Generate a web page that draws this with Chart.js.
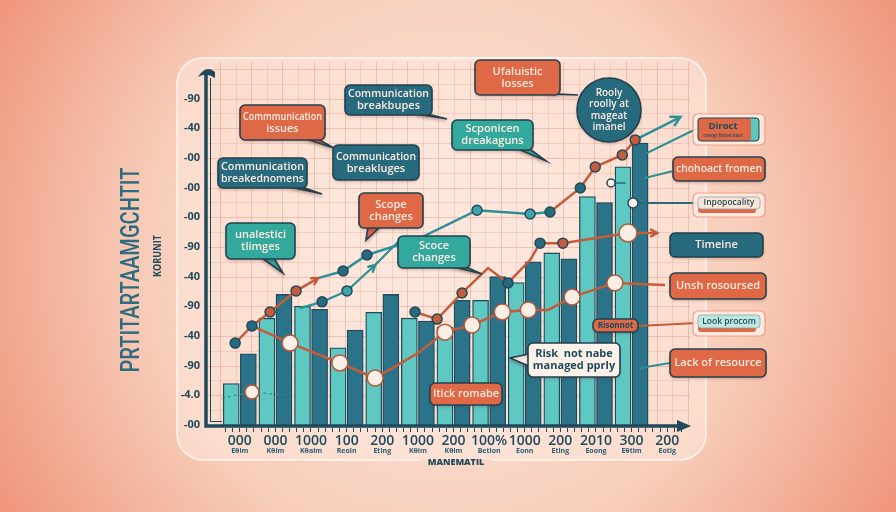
<!DOCTYPE html>
<html lang="en">
<head>
<meta charset="UTF-8">
<title>Project risk chart</title>
<script src="https://cdn.jsdelivr.net/npm/chart.js"></script>
<style>
  html, body { margin: 0; padding: 0; background: #f6c9b6; overflow: hidden; }
  canvas { display: block; }
</style>
</head>
<body>
<canvas id="chart" width="896" height="512"></canvas>
<script>
// ---- data ----
const xLabels = ['000', '000', '1000', '100', '200', '1000', '200', '100%', '1000', '200', '2010', '300', '200'];
const xSubLabels = ['Eθim', 'Kθim', 'Kθaim', 'Reoin', 'Eting', 'Kθim', 'Kθim', 'Betion', 'Eonn', 'Eting', 'Eoong', 'Eθtim', 'Eotig'];
const yTickLabels = ['-00', '-4.0', '-90', '-40', '-90', '-40', '-90', '-00', '-00', '-00', '-40', '-90'];

const barsFront = [14, 36, 40, 26, 38, 36, 33, 42, 48, 58, 77, 87, null];
const barsBack = [24, 44, 39, 32, 44, 35, 42, 50, 55, 56, 75, 95, null];

// lines use a hidden linear x axis in category-index units
const upperLine = [
  {x: -0.13, y: 27.6}, {x: 0.34, y: 33.4}, {x: 0.85, y: 38.1}, {x: 1.58, y: 45.2},
  {x: 2.20, y: 49.5}, {x: 2.90, y: 51.9}, {x: 3.57, y: 57.3}, {x: 5.06, y: 63.0},
  {x: 6.66, y: 72.4}, {x: 8.15, y: 71.1}, {x: 8.71, y: 71.8}, {x: 9.56, y: 79.9},
  {x: 9.98, y: 87.0}, {x: 10.74, y: 91.0}, {x: 11.10, y: 96.1}, {x: 12.37, y: 103.8}
];
const tealLine = [
  {x: 1.69, y: 39.4}, {x: 2.31, y: 41.5}, {x: 3.01, y: 45.2}, {x: 3.80, y: 53.9}, {x: 4.44, y: 61.7}
];
const middleLine = [
  {x: 4.92, y: 38.1}, {x: 5.54, y: 35.7}, {x: 6.24, y: 44.5}, {x: 6.97, y: 52.9}, {x: 7.53, y: 47.9},
  {x: 8.15, y: 55.6}, {x: 8.43, y: 61.3}, {x: 9.07, y: 61.3}, {x: 10.90, y: 64.7}, {x: 11.72, y: 64.7}
];
const nodeLine = [
  {x: 0.34, y: 33.4}, {x: 1.41, y: 27.6}, {x: 2.81, y: 20.9}, {x: 3.80, y: 15.8}, {x: 5.01, y: 24.3},
  {x: 5.76, y: 31.3}, {x: 6.52, y: 33.7}, {x: 7.37, y: 38.1}, {x: 8.10, y: 38.8}, {x: 8.66, y: 38.8},
  {x: 9.33, y: 43.1}, {x: 10.53, y: 47.9}, {x: 11.94, y: 47.2}
];
const dashedLine = [{x: -0.50, y: 9.1}, {x: 0.34, y: 11.1}, {x: 1.27, y: 10.1}];

// ---- colours ----
const NAVY = '#1f4a5b';
const ORANGE = '#df6846';
const RUST = '#c45c3c';
const DARKTEAL = '#27697d';
const GREEN = '#33a89d';
const LIGHTBAR = '#5ec8c2';
const DARKBAR = '#2b7388';
const CREAM = '#fdebe0';
const TEALLINE = '#2d9097';
const NODE = '#fbeee5';

const D = 'd', O = 'o', T = 't', W = 'w', N = 'n';
const fillOf = {d: DARKTEAL, o: RUST, t: '#3aa6a6', w: NODE, n: 'rgba(0,0,0,0)'};
const radOf = {d: 5, o: 5, t: 5, w: 8, n: 0};
const upperPts = [D, D, O, O, N, D, D, N, T, T, D, D, O, O, O, N];
const upperSeg = [RUST, RUST, RUST, RUST, TEALLINE, TEALLINE, TEALLINE, TEALLINE, TEALLINE, TEALLINE, RUST, RUST, RUST, RUST, TEALLINE];
const tealPts = [N, D, T, N, N];
const middlePts = [D, O, O, N, D, N, D, O, W, N];
const nodePts = [N, W, W, W, N, W, W, W, W, N, W, W, N];
const dashedPts = [N, W, N];

function pointStyle(pts, big) {
  return {
    pointRadius: pts.map(p => p === W ? (big || 8) : radOf[p]),
    pointBackgroundColor: pts.map(p => fillOf[p]),
    pointBorderColor: pts.map(p => p === N ? 'rgba(0,0,0,0)' : (p === W ? '#b4573b' : NAVY)),
    pointBorderWidth: 1.5
  };
}

// each category holds a pair of bars, placed either side of its centre
const PAIR = 0.24;
const frontPoints = barsFront.map((v, i) => ({x: i - PAIR, y: v}));
const backPoints = barsBack.map((v, i) => ({x: i + PAIR, y: v}));

// ---- drawing helpers ----
function roundRect(ctx, x, y, w, h, r) {
  ctx.beginPath();
  ctx.moveTo(x + r, y);
  ctx.arcTo(x + w, y, x + w, y + h, r);
  ctx.arcTo(x + w, y + h, x, y + h, r);
  ctx.arcTo(x, y + h, x, y, r);
  ctx.arcTo(x, y, x + w, y, r);
  ctx.closePath();
}

function arrowHead(ctx, from, to, color, size) {
  const a = Math.atan2(to.y - from.y, to.x - from.x);
  ctx.save();
  ctx.strokeStyle = color;
  ctx.lineWidth = 2.5;
  ctx.lineCap = 'round';
  ctx.beginPath();
  ctx.moveTo(to.x - size * Math.cos(a - 0.5), to.y - size * Math.sin(a - 0.5));
  ctx.lineTo(to.x, to.y);
  ctx.lineTo(to.x - size * Math.cos(a + 0.5), to.y - size * Math.sin(a + 0.5));
  ctx.stroke();
  ctx.restore();
}

function tailPath(ctx, b) {
  const [side, p, tx, ty] = b.tail;
  ctx.beginPath();
  if (side === 'bottom') {
    ctx.moveTo(p - 6, b.y + b.h - 1);
    ctx.lineTo(tx, ty);
    ctx.lineTo(p + 6, b.y + b.h - 1);
  } else {
    ctx.moveTo(b.x + 1, p - 6);
    ctx.lineTo(tx, ty);
    ctx.lineTo(b.x + 1, p + 6);
  }
  ctx.closePath();
}

function bubble(ctx, b) {
  ctx.save();
  ctx.shadowColor = 'rgba(90,40,30,0.25)';
  ctx.shadowOffsetY = 2;
  ctx.shadowBlur = 3;
  ctx.lineWidth = 1.6;
  ctx.strokeStyle = '#23404d';
  ctx.fillStyle = b.fill;
  if (b.tail) { tailPath(ctx, b); ctx.fill(); ctx.stroke(); }
  roundRect(ctx, b.x, b.y, b.w, b.h, 5);
  ctx.fill();
  ctx.shadowColor = 'transparent';
  ctx.stroke();
  if (b.tail) {
    ctx.save();
    tailPath(ctx, b);
    ctx.clip();
    roundRect(ctx, b.x + 1.2, b.y + 1.2, b.w - 2.4, b.h - 2.4, 4);
    ctx.fill();
    ctx.restore();
  }
  ctx.fillStyle = b.color;
  ctx.font = (b.font || '600 11px "Open Sans"');
  ctx.textAlign = 'center';
  ctx.textBaseline = 'middle';
  const lh = b.lh || 12;
  const y0 = b.y + b.h / 2 - (b.lines.length - 1) * lh / 2;
  b.lines.forEach((t, i) => ctx.fillText(t, b.x + b.w / 2, y0 + i * lh, b.w - 6));
  ctx.restore();
}

function paleTag(ctx, x, y, w, h, inner, strip, text) {
  ctx.save();
  ctx.fillStyle = 'rgba(255,236,226,0.9)';
  ctx.strokeStyle = 'rgba(236,150,128,0.9)';
  ctx.lineWidth = 1.2;
  roundRect(ctx, x, y, w, h, 5);
  ctx.fill(); ctx.stroke();
  ctx.fillStyle = strip;
  roundRect(ctx, x + 5, y + 4, w - 14, h - 8, 3);
  ctx.fill();
  ctx.fillStyle = inner;
  roundRect(ctx, x + 5, y + 4, w - 10, h - 12, 3);
  ctx.fill();
  ctx.strokeStyle = '#8aa3a8';
  ctx.lineWidth = 0.8;
  ctx.stroke();
  ctx.fillStyle = NAVY;
  ctx.font = '600 8.5px "Open Sans"';
  ctx.textAlign = 'center';
  ctx.textBaseline = 'middle';
  ctx.fillText(text, x + w / 2, y + 4 + (h - 12) / 2, w - 14);
  ctx.restore();
}

function line(ctx, x1, y1, x2, y2, color, w) {
  ctx.save();
  ctx.strokeStyle = color;
  ctx.lineWidth = w || 2;
  ctx.lineCap = 'round';
  ctx.beginPath();
  ctx.moveTo(x1, y1);
  ctx.lineTo(x2, y2);
  ctx.stroke();
  ctx.restore();
}

const callouts = [
  {x: 240, y: 105, w: 85, h: 35, fill: ORANGE, color: CREAM, lines: ['Commmunication', 'issues'], tail: ['bottom', 312, 334, 148]},
  {x: 345, y: 85, w: 87, h: 30, fill: DARKTEAL, color: CREAM, lines: ['Communication', 'breakbupes'], tail: ['bottom', 422, 447, 119]},
  {x: 218, y: 158, w: 89, h: 30, fill: DARKTEAL, color: CREAM, lines: ['Communication', 'breakednomens'], tail: ['bottom', 296, 322, 194]},
  {x: 333, y: 145, w: 86, h: 35, fill: DARKTEAL, color: CREAM, lines: ['Communication', 'breakluges']},
  {x: 359, y: 193, w: 64, h: 35, fill: ORANGE, color: CREAM, lines: ['Scope', 'changes'], tail: ['bottom', 374, 366, 240]},
  {x: 226, y: 223, w: 69, h: 36, fill: GREEN, color: CREAM, lines: ['unalestici', 'tlimges'], tail: ['bottom', 268, 283, 273]},
  {x: 398, y: 236, w: 72, h: 32, fill: GREEN, color: CREAM, lines: ['Scoce', 'changes'], tail: ['bottom', 460, 482, 274]},
  {x: 452, y: 120, w: 81, h: 30, fill: GREEN, color: CREAM, lines: ['Scponicen', 'dreakaguns'], tail: ['bottom', 524, 546, 161]},
  {x: 475, y: 60, w: 85, h: 35, fill: ORANGE, color: CREAM, lines: ['Ufaluistic', 'losses'], tail: ['bottom', 552, 578, 95]},
  {x: 528, y: 343, w: 92, h: 34, fill: '#fdf2ea', color: NAVY, lines: ['Risk  not nabe', 'managed pprly'], tail: ['left', 360, 510, 358], font: '700 11px "Open Sans"'},
  {x: 430, y: 383, w: 72, h: 22, fill: ORANGE, color: CREAM, lines: ['Itick romabe']},
  {x: 593, y: 319, w: 45, h: 13, fill: ORANGE, color: NAVY, lines: ['Risonnot'], font: '700 8px "Open Sans"'},
  {x: 673, y: 157, w: 92, h: 24, fill: ORANGE, color: CREAM, lines: ['chohoact fromen']},
  {x: 670, y: 233, w: 93, h: 24, fill: DARKTEAL, color: CREAM, lines: ['Timeine']},
  {x: 670, y: 273, w: 96, h: 26, fill: ORANGE, color: CREAM, lines: ['Unsh rosoursed']},
  {x: 670, y: 349, w: 96, h: 28, fill: ORANGE, color: CREAM, lines: ['Lack of resource']}
];

// ---- plugin: background, panel, grid, axes, annotations ----
const decor = {
  id: 'decor',
  beforeDraw(chart) {
    const ctx = chart.ctx;
    const a = chart.chartArea;
    ctx.save();
    const g = ctx.createRadialGradient(448, 256, 90, 448, 256, 560);
    g.addColorStop(0, '#fbe2d5');
    g.addColorStop(0.45, '#f7cdb9');
    g.addColorStop(1, '#ee8a6f');
    ctx.fillStyle = g;
    ctx.fillRect(0, 0, chart.width, chart.height);

    // pale panel
    const L = 177, Tp = 58, R = 706, B = 460, r = 26;
    ctx.fillStyle = 'rgba(255,238,229,0.45)';
    roundRect(ctx, L, Tp, R - L, B - Tp, r);
    ctx.fill();
    ctx.strokeStyle = 'rgba(255,255,255,0.75)';
    ctx.lineWidth = 1.5;
    ctx.beginPath();
    ctx.moveTo(420, B);
    ctx.lineTo(L + r, B);
    ctx.arcTo(L, B, L, Tp, r);
    ctx.arcTo(L, Tp, R, Tp, r);
    ctx.arcTo(R, Tp, R, B, r);
    ctx.arcTo(R, B, L, B, r);
    ctx.lineTo(492, B);
    ctx.stroke();

    // fine grid
    const gl = a.left - 15, gr = 690, gt = a.top - 4, gb = a.bottom;
    ctx.lineWidth = 1;
    const ys = chart.scales.y;
    const unit = ys.getPixelForValue(0) - ys.getPixelForValue(5);
    for (let k = 0, y = gb; y >= gt; k++, y -= unit) {
      ctx.strokeStyle = k % 2 === 0 ? 'rgba(226,140,124,0.42)' : 'rgba(230,156,140,0.3)';
      ctx.beginPath(); ctx.moveTo(gl, Math.round(y) + 0.5); ctx.lineTo(gr, Math.round(y) + 0.5); ctx.stroke();
    }
    for (let k = 0, x = gl + 13; x <= gr; k++, x += 15.6) {
      ctx.strokeStyle = k % 2 === 0 ? 'rgba(226,140,124,0.42)' : 'rgba(230,156,140,0.3)';
      ctx.beginPath(); ctx.moveTo(Math.round(x) + 0.5, gt); ctx.lineTo(Math.round(x) + 0.5, gb); ctx.stroke();
    }

    // axis titles
    ctx.fillStyle = '#2d6c80';
    ctx.textAlign = 'center';
    ctx.textBaseline = 'middle';
    ctx.save();
    ctx.translate(132, 270);
    ctx.rotate(-Math.PI / 2);
    ctx.font = '500 26px Roboto';
    ctx.fillText('PRTITARTAAMGCHTIT', 0, 0, 205);
    ctx.restore();
    ctx.save();
    ctx.translate(158, 256);
    ctx.rotate(-Math.PI / 2);
    ctx.fillStyle = NAVY;
    ctx.font = '700 10px "Open Sans"';
    ctx.fillText('KORUNIT', 0, 0, 42);
    ctx.restore();
    ctx.fillStyle = NAVY;
    ctx.font = '800 9px "Open Sans"';
    ctx.fillText('MANEMATIL', 456, 462);
    ctx.restore();
  },
  afterDatasetsDraw(chart) {
    const ctx = chart.ctx;
    const a = chart.chartArea;
    const ax = a.left - 16, ay = a.bottom + 1;
    ctx.save();
    // minor ruler ticks under x axis
    ctx.strokeStyle = NAVY;
    ctx.lineWidth = 1;
    const xs = chart.scales.x;
    const step = (xs.getPixelForValue(1) - xs.getPixelForValue(0)) / 5;
    for (let x = a.left + 3; x < a.right; x += step) {
      ctx.beginPath(); ctx.moveTo(Math.round(x) + 0.5, ay + 2); ctx.lineTo(Math.round(x) + 0.5, ay + 6); ctx.stroke();
    }
    // axis lines
    ctx.strokeStyle = NAVY;
    ctx.lineWidth = 3.5;
    ctx.beginPath();
    ctx.moveTo(ax, a.top + 8);
    ctx.lineTo(ax, ay);
    ctx.lineTo(a.right - 2, ay);
    ctx.stroke();
    ctx.lineWidth = 1;
    ctx.beginPath();
    ctx.moveTo(ax + 4.5, a.top + 12);
    ctx.lineTo(ax + 4.5, ay - 4.5);
    ctx.lineTo(a.left, ay - 4.5);
    ctx.stroke();
    ctx.fillStyle = NAVY;
    ctx.beginPath();
    ctx.moveTo(ax - 8, a.top + 11);
    ctx.quadraticCurveTo(ax, a.top - 2, ax + 9, a.top + 6);
    ctx.lineTo(ax + 9, a.top + 12);
    ctx.quadraticCurveTo(ax, a.top + 6, ax - 8, a.top + 11);
    ctx.fill();
    ctx.beginPath();
    ctx.moveTo(a.right - 8, ay - 6);
    ctx.lineTo(a.right + 6, ay);
    ctx.lineTo(a.right - 8, ay + 6);
    ctx.closePath();
    ctx.fill();
    ctx.restore();

    // arrow ends of the trend lines
    const up = chart.getDatasetMeta(2).data;
    arrowHead(ctx, up[up.length - 2], up[up.length - 1], TEALLINE, 10);
    arrowHead(ctx, up[3], up[4], RUST, 7);
    const mid = chart.getDatasetMeta(4).data;
    arrowHead(ctx, mid[mid.length - 2], mid[mid.length - 1], RUST, 7);
    const tl = chart.getDatasetMeta(3).data;
    arrowHead(ctx, tl[2], tl[3], TEALLINE, 7);

    // x sub labels
    ctx.save();
    ctx.fillStyle = '#2b5f73';
    ctx.font = '700 7px "Open Sans"';
    ctx.textAlign = 'center';
    ctx.textBaseline = 'middle';
    xSubLabels.forEach((t, i) => ctx.fillText(t, xs.getPixelForValue(i), 451));
    ctx.restore();
  },
  afterDraw(chart) {
    const ctx = chart.ctx;
    // connectors to the right-hand tags
    line(ctx, 647, 153, 696, 129, TEALLINE, 2);
    line(ctx, 645, 178, 673, 171, TEALLINE, 2);
    line(ctx, 633, 203, 697, 203, DARKTEAL, 2);
    line(ctx, 612, 183, 625, 183, DARKTEAL, 1.5);
    line(ctx, 638, 326, 697, 323, RUST, 2);
    line(ctx, 640, 368, 670, 363, TEALLINE, 2);
    ctx.save();
    ctx.fillStyle = '#fdf2ea';
    ctx.strokeStyle = NAVY;
    ctx.lineWidth = 1.5;
    [[633, 203, 5], [611, 183, 4]].forEach(([x, y, r]) => {
      ctx.beginPath(); ctx.arc(x, y, r, 0, Math.PI * 2); ctx.fill(); ctx.stroke();
    });
    ctx.restore();

    callouts.forEach(b => bubble(ctx, b));

    // round badge
    ctx.save();
    ctx.shadowColor = 'rgba(90,40,30,0.25)';
    ctx.shadowOffsetY = 2;
    ctx.shadowBlur = 3;
    ctx.fillStyle = DARKTEAL;
    ctx.strokeStyle = '#23404d';
    ctx.lineWidth = 1.6;
    ctx.beginPath(); ctx.arc(609, 110, 32, 0, Math.PI * 2); ctx.fill();
    ctx.shadowColor = 'transparent';
    ctx.stroke();
    ctx.fillStyle = CREAM;
    ctx.font = '600 10px "Open Sans"';
    ctx.textAlign = 'center';
    ctx.textBaseline = 'middle';
    ['Rooly', 'roolly at', 'mageat', 'imanel'].forEach((t, i) => ctx.fillText(t, 609, 93 + i * 11.5));
    ctx.restore();

    // "Diroct" tag
    ctx.save();
    ctx.fillStyle = 'rgba(255,236,226,0.9)';
    ctx.strokeStyle = 'rgba(236,150,128,0.9)';
    ctx.lineWidth = 1.2;
    roundRect(ctx, 693, 114, 72, 31, 5); ctx.fill(); ctx.stroke();
    ctx.fillStyle = '#5cc8bd';
    roundRect(ctx, 698, 118, 61, 23, 3); ctx.fill();
    ctx.fillStyle = ORANGE;
    roundRect(ctx, 698, 118, 53, 23, 3); ctx.fill();
    ctx.strokeStyle = '#23404d';
    ctx.lineWidth = 1;
    roundRect(ctx, 698, 118, 61, 23, 3); ctx.stroke();
    ctx.fillStyle = NAVY;
    ctx.textAlign = 'center';
    ctx.textBaseline = 'middle';
    ctx.font = '700 9.5px "Open Sans"';
    ctx.fillText('Diroct', 723, 126);
    ctx.font = '600 4.5px "Open Sans"';
    ctx.fillText('coecgt fitoon baut', 723, 136);
    ctx.restore();

    paleTag(ctx, 693, 193, 72, 24, '#fbe4d6', ORANGE, 'Inpopocality');
    paleTag(ctx, 693, 311, 72, 25, '#bfe7e0', ORANGE, 'Look procom');
  }
};

new Chart(document.getElementById('chart'), {
  data: {
    labels: xLabels,
    datasets: [
      {type: 'bar', data: frontPoints, xAxisID: 'x2', backgroundColor: LIGHTBAR, borderColor: NAVY, borderWidth: 1.3, order: 3,
        grouped: false, barThickness: 16},
      {type: 'bar', data: backPoints, xAxisID: 'x2', backgroundColor: DARKBAR, borderColor: NAVY, borderWidth: 1.3, order: 3,
        grouped: false, barThickness: 16},
      {type: 'line', data: upperLine, xAxisID: 'x2', borderWidth: 2.5, borderColor: RUST, order: 1,
        segment: {borderColor: c => upperSeg[c.p0DataIndex]}, ...pointStyle(upperPts)},
      {type: 'line', data: tealLine, xAxisID: 'x2', borderWidth: 2.2, borderColor: TEALLINE, order: 1, ...pointStyle(tealPts)},
      {type: 'line', data: middleLine, xAxisID: 'x2', borderWidth: 2.5, borderColor: RUST, order: 1, ...pointStyle(middlePts, 9)},
      {type: 'line', data: nodeLine, xAxisID: 'x2', borderWidth: 2.5, borderColor: RUST, order: 1, ...pointStyle(nodePts)},
      {type: 'line', data: dashedLine, xAxisID: 'x2', borderWidth: 1.2, borderColor: TEALLINE, borderDash: [3, 3], order: 1, ...pointStyle(dashedPts, 7)}
    ]
  },
  options: {
    responsive: false,
    animation: false,
    events: [],
    layout: {padding: {left: 172, right: 211, top: 66, bottom: 0}},
    plugins: {legend: {display: false}, tooltip: {enabled: false}},
    scales: {
      x: {
        type: 'category', offset: true,
        grid: {display: false, drawTicks: false}, border: {display: false},
        ticks: {color: NAVY, font: {family: 'Open Sans', size: 14, weight: '600'}, padding: 8, autoSkip: false, maxRotation: 0},
        afterFit: s => { s.height = 87; }
      },
      x2: {type: 'linear', display: false, offset: false, min: -0.5, max: 12.5},
      y: {
        min: 0, max: 121,
        grid: {display: false, drawTicks: false}, border: {display: false},
        ticks: {stepSize: 10, padding: 22, color: NAVY, font: {family: 'Open Sans', size: 11, weight: '700'},
          callback: v => yTickLabels[v / 10] ?? ''},
        afterFit: s => { s.width = 50; }
      }
    }
  },
  plugins: [decor]
});
</script>
</body>
</html>
